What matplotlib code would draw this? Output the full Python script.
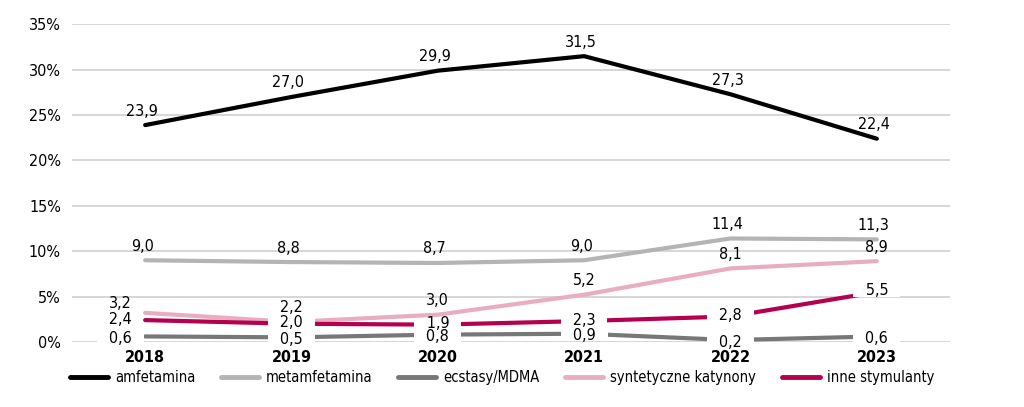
import matplotlib
matplotlib.use("Agg")
import matplotlib.pyplot as plt
from matplotlib.lines import Line2D

years = ["2018", "2019", "2020", "2021", "2022", "2023"]
amfetamina = [23.9, 27.0, 29.9, 31.5, 27.3, 22.4]
metamfetamina = [9.0, 8.8, 8.7, 9.0, 11.4, 11.3]
ecstasy = [0.6, 0.5, 0.8, 0.9, 0.2, 0.6]
katynony = [3.2, 2.2, 3.0, 5.2, 8.1, 8.9]
inne = [2.4, 2.0, 1.9, 2.3, 2.8, 5.5]
names = ["amfetamina", "metamfetamina", "ecstasy/MDMA", "syntetyczne katynony", "inne stymulanty"]
yticks = [0, 5, 10, 15, 20, 25, 30, 35]

plt.rcParams["font.family"] = ["DejaVu Sans"]
plt.rcParams["font.stretch"] = "condensed"

colors = ["#000000", "#b4b4b4", "#777777", "#e8aebf", "#b5004f"]
series = [amfetamina, metamfetamina, ecstasy, katynony, inne]

fig = plt.figure(figsize=(10.24, 4.07), dpi=100)
ax = fig.add_axes([0.0703, 0.16, 0.8574, 0.78])
x = list(range(len(years)))

for s, c, n in zip(series, colors, names):
    ax.plot(x, s, color=c, lw=3.0, solid_capstyle="round", label=n, zorder=3)

def fmt(v):
    return f"{v:.1f}".replace(".", ",")

FS = 11.5
# labels above points
for s in (amfetamina, metamfetamina):
    for i, v in enumerate(s):
        ax.annotate(fmt(v), (i, v), xytext=(-3, 14), textcoords="offset pixels",
                    ha="center", va="center", fontsize=FS, zorder=5)
for i, v in enumerate(katynony):
    off = (-25, 9) if i == 0 else (0, 14)
    ax.annotate(fmt(v), (i, v), xytext=off, textcoords="offset pixels",
                ha="center", va="center", fontsize=FS, zorder=5)
# labels centered on points with white box (ecstasy drawn on top)
for s, z, dy in ((inne, 6, 1), (ecstasy, 7, -2)):
    for i, v in enumerate(s):
        off = (-25, dy) if i == 0 else (0, dy)
        ax.annotate("   " + fmt(v) + "   ", (i, v), xytext=off, textcoords="offset pixels",
                    ha="center", va="center", fontsize=FS, zorder=z,
                    bbox=dict(boxstyle="square,pad=-0.12", fc="white", ec="none"))

ax.set_xlim(-0.5, 5.5)
ax.set_ylim(0, 35)
ax.set_yticks(yticks)
ax.set_yticklabels([f"{t}%" for t in yticks], fontsize=FS)
ax.set_xticks(x)
ax.set_xticklabels(years, fontsize=FS, fontweight="semibold")
ax.grid(axis="y", color="#d0d0d0", lw=1.2, zorder=0)
ax.set_axisbelow(True)
for sp in ax.spines.values():
    sp.set_visible(False)
ax.tick_params(length=0, pad=6)
ax.tick_params(axis="y", pad=8)

handles = [Line2D([0], [0], color=c, lw=3.5, solid_capstyle="round") for c in colors]
fig.legend(handles, names, loc="center left", bbox_to_anchor=(0.068, 0.072), ncol=5,
           frameon=False, fontsize=10.5, handlelength=2.6, handletextpad=0.5,
           columnspacing=1.75, borderaxespad=0, borderpad=0)

fig.savefig("out.png", dpi=100, facecolor="white")
